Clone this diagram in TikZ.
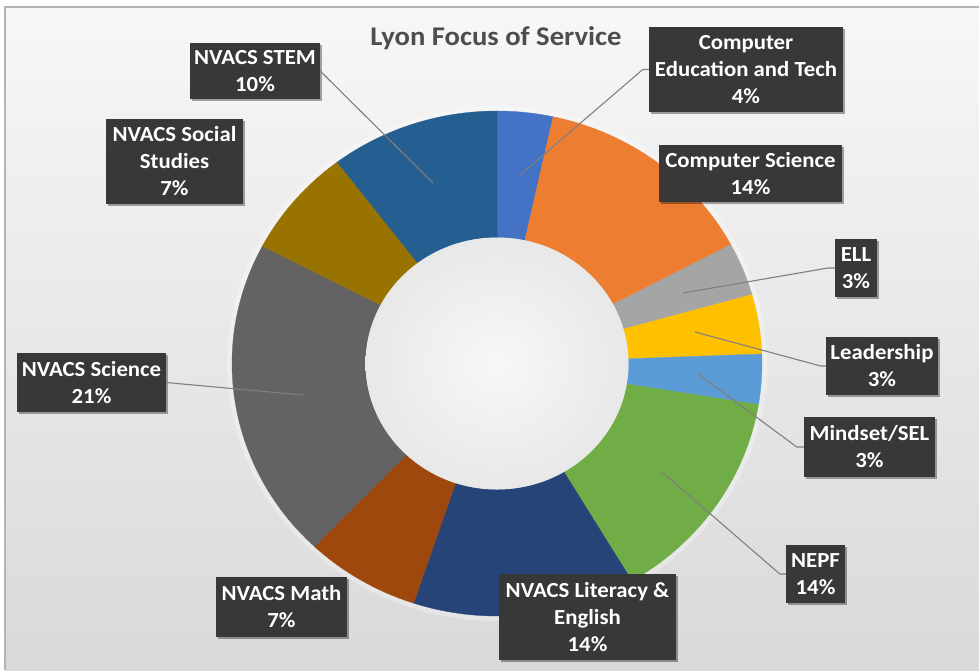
\documentclass[tikz,border=0pt]{standalone}
\usepackage{fontspec}
\setmainfont{Carlito}[FakeStretch=1.06]
\usetikzlibrary{shadows}
\definecolor{cCET}{HTML}{4472C4}
\definecolor{cCS}{HTML}{ED7D31}
\definecolor{cELL}{HTML}{A5A5A5}
\definecolor{cLEAD}{HTML}{FFC000}
\definecolor{cMIND}{HTML}{5B9BD5}
\definecolor{cNEPF}{HTML}{70AD47}
\definecolor{cLIT}{HTML}{264478}
\definecolor{cMATH}{HTML}{9E480E}
\definecolor{cSCI}{HTML}{636363}
\definecolor{cSOC}{HTML}{997300}
\definecolor{cSTEM}{HTML}{255E91}
\definecolor{boxgray}{HTML}{383838}
\definecolor{leadgray}{HTML}{7F7F7F}
\definecolor{titlegray}{HTML}{4D4D4D}
\definecolor{bgtop}{HTML}{F7F7F7}
\definecolor{bgbot}{HTML}{D9D9D9}
\definecolor{framegray}{HTML}{B4B4B4}
\newcommand\donutseg[3]{\fill[#3, draw=#3, line width=0.3pt] (#1:265 and 252.5) arc[start angle=#1, end angle=#2, x radius=265, y radius=252.5] -- (#2:131.5 and 126) arc[start angle=#2, end angle=#1, x radius=131.5, y radius=126] -- cycle;}
\begin{document}
\begin{tikzpicture}[x=1pt,y=-1pt,
  lbl/.style={fill=boxgray, text=white, font=\bfseries\fontsize{21.5}{27}\selectfont, align=center, inner sep=0pt,
    drop shadow={shadow xshift=2pt, shadow yshift=-2pt, opacity=0.35, fill=black}},
  leader/.style={draw=leadgray, line width=1.1pt}]
\useasboundingbox (0,0) rectangle (979,670);
\fill[white] (0,0) rectangle (979,670);
\shade[top color=bgtop, bottom color=bgbot] (5,7) rectangle (979,670);
\draw[framegray, line width=1.5pt] (5,670) -- (5,7) -- (979,7);
\node[font=\bfseries\fontsize{27}{32}\selectfont, text=titlegray, anchor=base] (title) at (496,45) {Lyon Focus of Service};
\begin{scope}[shift={(497,363.5)}]
  \fill[white, opacity=0.3] (0,0) ellipse [x radius=270, y radius=257.5];
  \donutseg{-90}{-77.76}{cCET}
  \donutseg{-77.76}{-28.08}{cCS}
  \donutseg{-28.08}{-15.84}{cELL}
  \donutseg{-15.84}{-2.16}{cLEAD}
  \donutseg{-2.16}{9.36}{cMIND}
  \donutseg{9.36}{59.4}{cNEPF}
  \donutseg{59.4}{108.36}{cLIT}
  \donutseg{108.36}{133.56}{cMATH}
  \donutseg{133.56}{207.72}{cSCI}
  \donutseg{207.72}{232.92}{cSOC}
  \donutseg{232.92}{270}{cSTEM}
  \shade[inner color=white!97!black, outer color=white!91!black] (0,0) ellipse [x radius=131.5, y radius=126];
\end{scope}
% labels
\node[lbl, minimum width=130pt, minimum height=56pt] (stem) at (255,71) {NVACS STEM\\10\%};
\node[lbl, minimum width=194pt, minimum height=85pt] (cet) at (746,69.5) {Computer\\Education and Tech\\4\%};
\node[lbl, minimum width=183pt, minimum height=57pt] (cs) at (750.5,173.5) {Computer Science\\14\%};
\node[lbl, minimum width=42pt, minimum height=58pt] (ell) at (856,268) {ELL\\3\%};
\node[lbl, minimum width=112pt, minimum height=58pt] (lead) at (882,366) {Leadership\\3\%};
\node[lbl, minimum width=131pt, minimum height=60pt] (mind) at (869.5,447) {Mindset/SEL\\3\%};
\node[lbl, minimum width=59pt, minimum height=58pt] (nepf) at (815.5,574) {NEPF\\14\%};
\node[lbl, minimum width=177pt, minimum height=86pt] (lit) at (587.5,617) {NVACS Literacy \&\\English\\14\%};
\node[lbl, minimum width=131pt, minimum height=60pt] (math) at (281.5,607) {NVACS Math\\7\%};
\node[lbl, minimum width=137pt, minimum height=85pt] (soc) at (174.5,161.5) {NVACS Social\\Studies\\7\%};
\node[lbl, minimum width=149pt, minimum height=59pt] (sci) at (91.5,382.5) {NVACS Science\\21\%};
% leader ends
\coordinate (stemEnd) at (433,183);
\coordinate (cetEnd) at (520,175);
\coordinate (ellEnd) at (683,293);
\coordinate (leadEnd) at (695,332);
\coordinate (mindEnd) at (698,374);
\coordinate (nepfEnd) at (662,472);
\coordinate (sciEnd) at (303,395);
\draw[leader] (stem.east) -- (stemEnd);
\draw[leader] (cet.west) -- ++(-6,0) -- (cetEnd);
\draw[leader] (ell.west) -- ++(-7,0) -- (ellEnd);
\draw[leader] (lead.west) -- ++(-5,0) -- (leadEnd);
\draw[leader] (mind.west) -- ++(-7,0) -- (mindEnd);
\draw[leader] (nepf.west) -- ++(-6,0) -- (nepfEnd);
\draw[leader] (sci.east) -- (sciEnd);
\end{tikzpicture}
\end{document}
